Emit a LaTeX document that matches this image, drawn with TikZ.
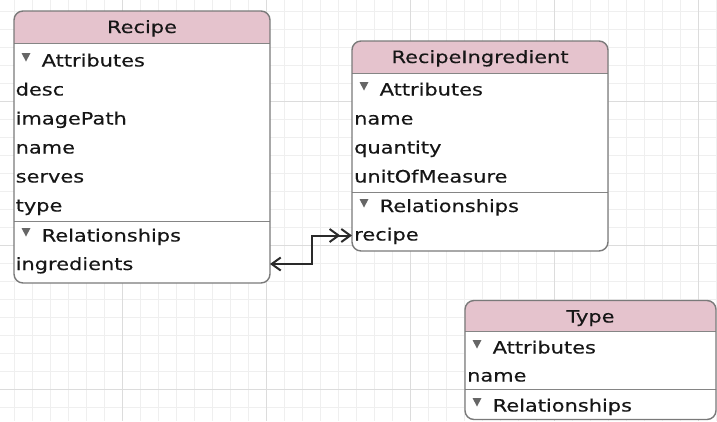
\documentclass[tikz,border=0pt]{standalone}
\usepackage{fontspec}
\usetikzlibrary{arrows.meta}
\newfontfamily\erfont[FakeStretch=1.23,FakeBold=0.3]{DejaVu Sans}
\definecolor{hdrpink}{HTML}{E5C3CD}
\definecolor{boxgray}{HTML}{7A7A7A}
\definecolor{sepgray}{HTML}{858585}
\definecolor{txt}{HTML}{161616}
\definecolor{trigray}{HTML}{666666}
\definecolor{gridminor}{HTML}{EFEFEF}
\definecolor{gridmajor}{HTML}{DCDCDC}
\definecolor{linkcol}{HTML}{2A2A2A}
\tikzset{
  boxframe/.style={draw=boxgray, line width=1.4pt, rounded corners=9pt, inner sep=0pt, outer sep=0pt, anchor=north west},
  hdrfill/.style={fill=hdrpink},
  sepline/.style={draw=sepgray, line width=1pt},
  rowtext/.style={anchor=base west, inner sep=0pt, font=\erfont\fontsize{17}{20}\selectfont, text=txt},
  titletext/.style={anchor=base, inner sep=0pt, font=\erfont\fontsize{17}{20}\selectfont, text=txt},
  tri/.style={fill=trigray},
  link/.style={draw=linkcol, line width=2pt, line join=miter,
    arrows={Straight Barb[length=9pt,width=13pt]-Straight Barb[length=9pt,width=13pt] Straight Barb[length=9pt,width=13pt]}},
  gminor/.style={draw=gridminor, line width=0.8pt},
  gmajor/.style={draw=gridmajor, line width=1pt}
}
\begin{document}
\begin{tikzpicture}[x=1pt,y=-1pt]
\useasboundingbox (0,0) rectangle (717,421);
\fill[white] (0,0) rectangle (717,421);
% grid
\foreach \gx in {0,...,39} { \draw[gminor] ({14+18*\gx},0) -- ({14+18*\gx},421); }
\foreach \gy in {0,...,22} { \draw[gminor] (0,{11+18*\gy}) -- (717,{11+18*\gy}); }
\foreach \gx in {122,266,410,554,698} { \draw[gmajor] (\gx,0) -- (\gx,421); }
\foreach \gy in {101,245,389} { \draw[gmajor] (0,\gy) -- (717,\gy); }

% ---------- Recipe ----------
\fill[white, rounded corners=9pt] (14,11) rectangle (270,283);
\begin{scope}
  \clip[rounded corners=9pt] (14,11) rectangle (270,283);
  \fill[hdrfill] (14,11) rectangle (270,43);
\end{scope}
\draw[sepline] (14,43) -- (270,43);
\draw[sepline] (14,221) -- (270,221);
\node[titletext] (recipeTitle) at (142,33) {Recipe};
\fill[tri] (21.5,53) -- (30.5,53) -- (26,61.5) -- cycle;
\node[rowtext] (recipeAttr) at (41.5,66.5) {Attributes};
\node[rowtext] (recipeDesc) at (15.5,95.5) {desc};
\node[rowtext] (recipeImg) at (15.5,124.5) {imagePath};
\node[rowtext] (recipeName) at (15.5,153.5) {name};
\node[rowtext] (recipeServes) at (15.5,182.5) {serves};
\node[rowtext] (recipeType) at (15.5,211.5) {type};
\fill[tri] (21.5,228) -- (30.5,228) -- (26,236.5) -- cycle;
\node[rowtext] (recipeRel) at (41.5,241.5) {Relationships};
\node[rowtext] (recipeIng) at (15.5,270) {ingredients};
\node[boxframe, minimum width=256pt, minimum height=272pt] (recipe) at (14,11) {};

% ---------- RecipeIngredient ----------
\fill[white, rounded corners=9pt] (352,41) rectangle (608,251);
\begin{scope}
  \clip[rounded corners=9pt] (352,41) rectangle (608,251);
  \fill[hdrfill] (352,41) rectangle (608,73);
\end{scope}
\draw[sepline] (352,73) -- (608,73);
\draw[sepline] (352,192) -- (608,192);
\node[titletext] (riTitle) at (480,63) {RecipeIngredient};
\fill[tri] (359.5,82) -- (368.5,82) -- (364,90.5) -- cycle;
\node[rowtext] (riAttr) at (379.5,95.5) {Attributes};
\node[rowtext] (riName) at (354,124.5) {name};
\node[rowtext] (riQty) at (354,153.5) {quantity};
\node[rowtext] (riUnit) at (354,182.5) {unitOfMeasure};
\fill[tri] (359.5,199) -- (368.5,199) -- (364,207.5) -- cycle;
\node[rowtext] (riRel) at (379.5,212) {Relationships};
\node[rowtext] (riRecipe) at (354,240.5) {recipe};
\node[boxframe, minimum width=256pt, minimum height=210pt] (ri) at (352,41) {};

% ---------- Type ----------
\fill[white, rounded corners=9pt] (465,300.5) rectangle (716,419.5);
\begin{scope}
  \clip[rounded corners=9pt] (465,300.5) rectangle (716,419.5);
  \fill[hdrfill] (465,300.5) rectangle (716,331);
\end{scope}
\draw[sepline] (465,331) -- (716,331);
\draw[sepline] (465,389.5) -- (716,389.5);
\node[titletext] (typeTitle) at (590.5,322.5) {Type};
\fill[tri] (472.5,340) -- (481.5,340) -- (477,348.5) -- cycle;
\node[rowtext] (typeAttr) at (492.5,353.5) {Attributes};
\node[rowtext] (typeName) at (467,381.5) {name};
\fill[tri] (472.5,398) -- (481.5,398) -- (477,406.5) -- cycle;
\node[rowtext] (typeRel) at (492.5,411.5) {Relationships};
\node[boxframe, minimum width=251pt, minimum height=119pt] (type) at (465,300.5) {};

% ---------- connector ----------
\coordinate (ingEnd) at (recipe.east |- 0,264);
\coordinate (recEnd) at (ri.west |- 0,235.5);
\draw[link] (ingEnd) -- ++(42,0) |- (recEnd);
\end{tikzpicture}
\end{document}
